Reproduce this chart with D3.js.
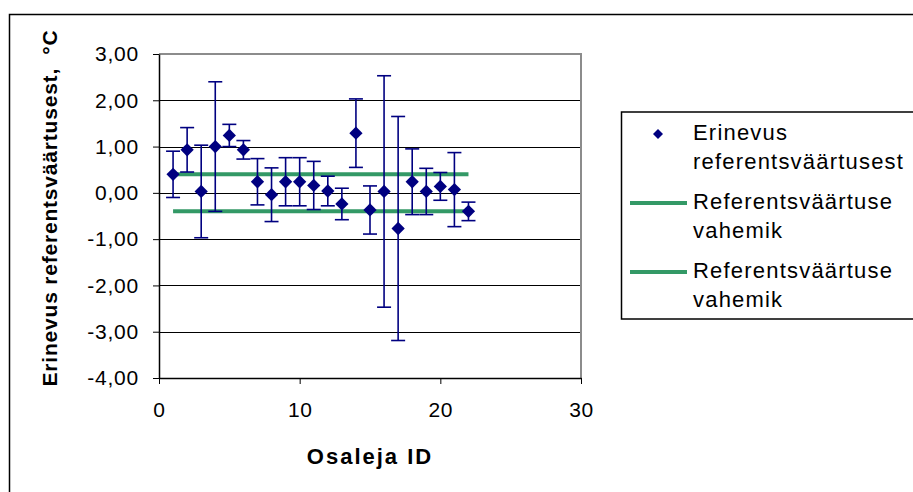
<!DOCTYPE html>
<html>
<head>
<meta charset="utf-8">
<script src="https://cdn.jsdelivr.net/npm/d3@7"></script>
<style>
  body { margin: 0; background: #fff; }
  text { font-family: "Liberation Sans", Arial, sans-serif; fill: #000; }
</style>
</head>
<body>
<div></div>
<script>
// participant ids, differences and their uncertainties
var ids = [1, 2, 3, 4, 5, 6, 7, 8, 9, 10, 11, 12, 13, 14, 15, 16, 17, 18, 19, 20, 21, 22];
var values = [0.40, 0.93, 0.03, 1.00, 1.24, 0.93, 0.24, -0.04, 0.24, 0.24, 0.16,
	0.04, -0.24, 1.29, -0.37, 0.03, -0.77, 0.24, 0.03, 0.14, 0.07, -0.40];
var errors = [0.50, 0.48, 1.00, 1.40, 0.24, 0.20, 0.50, 0.58, 0.52, 0.52, 0.52,
	0.32, 0.34, 0.74, 0.52, 2.50, 2.42, 0.71, 0.50, 0.30, 0.80, 0.20];

// reference range lines
var refX = [1, 22];
var refUpper = [0.40, 0.40];
var refLower = [-0.40, -0.40];

var yTicks = [3, 2, 1, 0, -1, -2, -3, -4];
var xTicks = [0, 10, 20, 30];

var legendLabels = [
	["Erinevus", "referentsväärtusest"],
	["Referentsväärtuse", "vahemik"],
	["Referentsväärtuse", "vahemik"]
];

var navy = "#000080",
	green = "#339966";

var width = 913,
	height = 492,
	plot = {left: 159, top: 54, right: 581, bottom: 378};

var svg = d3.select("div")
	.append("svg")
	.attr("width", width)
	.attr("height", height);

var locale = d3.formatLocale({decimal: ",", thousands: " ", grouping: [3], currency: ["", ""], minus: "-"});
var fmt = locale.format(".2f");

var xScale = d3.scaleLinear().domain([0, 30]).range([plot.left, plot.right]);
var yScale = d3.scaleLinear().domain([-4, 3]).range([plot.bottom, plot.top]);

// outer chart border
svg.append("rect")
	.attr("x", 9.5)
	.attr("y", 14.5)
	.attr("width", 1000)
	.attr("height", 1000)
	.attr("fill", "none")
	.attr("stroke", "#000")
	.attr("stroke-width", 1.5);

// gridlines
svg.append("g")
	.selectAll("line")
	.data(yTicks.filter(function(t) { return t > -4 && t < 3; }))
	.enter().append("line")
	.attr("x1", plot.left)
	.attr("x2", plot.right)
	.attr("y1", function(d) { return Math.round(yScale(d)) + 0.5; })
	.attr("y2", function(d) { return Math.round(yScale(d)) + 0.5; })
	.attr("stroke", "#000")
	.attr("stroke-width", 1);

// plot border top and right
svg.append("path")
	.attr("d", "M" + plot.left + "," + plot.top + "H" + plot.right + "V" + plot.bottom)
	.attr("fill", "none")
	.attr("stroke", "#8c8c8c")
	.attr("stroke-width", 2);

// axes
var yAxis = d3.axisLeft(yScale).tickValues(yTicks).tickFormat(fmt).tickSize(6).tickSizeOuter(0);
var xAxis = d3.axisBottom(xScale).tickValues(xTicks).tickSize(6).tickSizeOuter(0);

var yAxisGroup = svg.append("g")
	.attr("transform", "translate(" + plot.left + ",0)")
	.call(yAxis);
yAxisGroup.select(".domain").attr("stroke", "#000").attr("stroke-width", 1.5);
yAxisGroup.selectAll("text")
	.attr("x", -20)
	.style("font-size", "21px")
	.style("letter-spacing", "0.8px")
	.style("font-family", "'Liberation Sans', Arial, sans-serif");

var xAxisGroup = svg.append("g")
	.attr("transform", "translate(0," + plot.bottom + ")")
	.call(xAxis);
xAxisGroup.select(".domain").attr("stroke", "#000").attr("stroke-width", 1.5);
xAxisGroup.selectAll("text")
	.attr("y", 24)
	.style("font-size", "21px")
	.style("letter-spacing", "0.6px")
	.style("font-family", "'Liberation Sans', Arial, sans-serif");

// axis titles
svg.append("text")
	.attr("x", (plot.left + plot.right) / 2)
	.attr("y", 464)
	.attr("text-anchor", "middle")
	.style("font-size", "22px")
	.style("font-weight", "bold")
	.style("letter-spacing", "2px")
	.text("Osaleja ID");

svg.append("text")
	.attr("transform", "translate(57,208) rotate(-90)")
	.attr("text-anchor", "middle")
	.style("font-size", "21px")
	.style("font-weight", "bold")
	.style("letter-spacing", "0.8px")
	.text("Erinevus referentsväärtusest,\u00a0 °C");

// reference range lines
var refLine = d3.line()
	.x(function(d) { return xScale(d[0]); })
	.y(function(d) { return yScale(d[1]); });

[refUpper, refLower].forEach(function(series) {
	svg.append("path")
		.datum(d3.zip(refX, series))
		.attr("d", refLine)
		.attr("fill", "none")
		.attr("stroke", green)
		.attr("stroke-width", 4);
});

// error bars
var points = ids.map(function(id, i) {
	return {x: id, y: values[i], e: errors[i]};
});

var bars = svg.append("g")
	.attr("stroke", navy)
	.attr("stroke-width", 1.6)
	.attr("fill", "none");

points.forEach(function(p) {
	var cx = xScale(p.x),
		top = yScale(p.y + p.e),
		bottom = yScale(p.y - p.e);
	bars.append("line").attr("x1", cx).attr("x2", cx).attr("y1", top).attr("y2", bottom);
	bars.append("line").attr("x1", cx - 7).attr("x2", cx + 7).attr("y1", top).attr("y2", top);
	bars.append("line").attr("x1", cx - 7).attr("x2", cx + 7).attr("y1", bottom).attr("y2", bottom);
});

// diamonds
var diamond = d3.symbol().type(d3.symbolSquare).size(88);

svg.append("g")
	.selectAll("path")
	.data(points)
	.enter().append("path")
	.attr("d", diamond)
	.attr("transform", function(d) {
		return "translate(" + xScale(d.x) + "," + yScale(d.y) + ") rotate(45)";
	})
	.attr("fill", navy);

// legend
var legend = svg.append("g");

legend.append("rect")
	.attr("x", 621.5)
	.attr("y", 112)
	.attr("width", 400)
	.attr("height", 207)
	.attr("fill", "#fff")
	.attr("stroke", "#000")
	.attr("stroke-width", 1.5);

var entryTop = [132, 201, 270],
	lineGap = 29;

legend.append("path")
	.attr("d", d3.symbol().type(d3.symbolSquare).size(50))
	.attr("transform", "translate(658," + (entryTop[0] + 2) + ") rotate(45)")
	.attr("fill", navy);

[1, 2].forEach(function(i) {
	legend.append("line")
		.attr("x1", 630)
		.attr("x2", 687)
		.attr("y1", entryTop[i] + 2)
		.attr("y2", entryTop[i] + 2)
		.attr("stroke", green)
		.attr("stroke-width", 4);
});

legendLabels.forEach(function(lines, i) {
	lines.forEach(function(line, j) {
		legend.append("text")
			.attr("x", 693)
			.attr("y", entryTop[i] + j * lineGap)
			.attr("dy", "0.36em")
			.style("font-size", "22px")
			.style("letter-spacing", "1.2px")
			.text(line);
	});
});
</script>
</body>
</html>
